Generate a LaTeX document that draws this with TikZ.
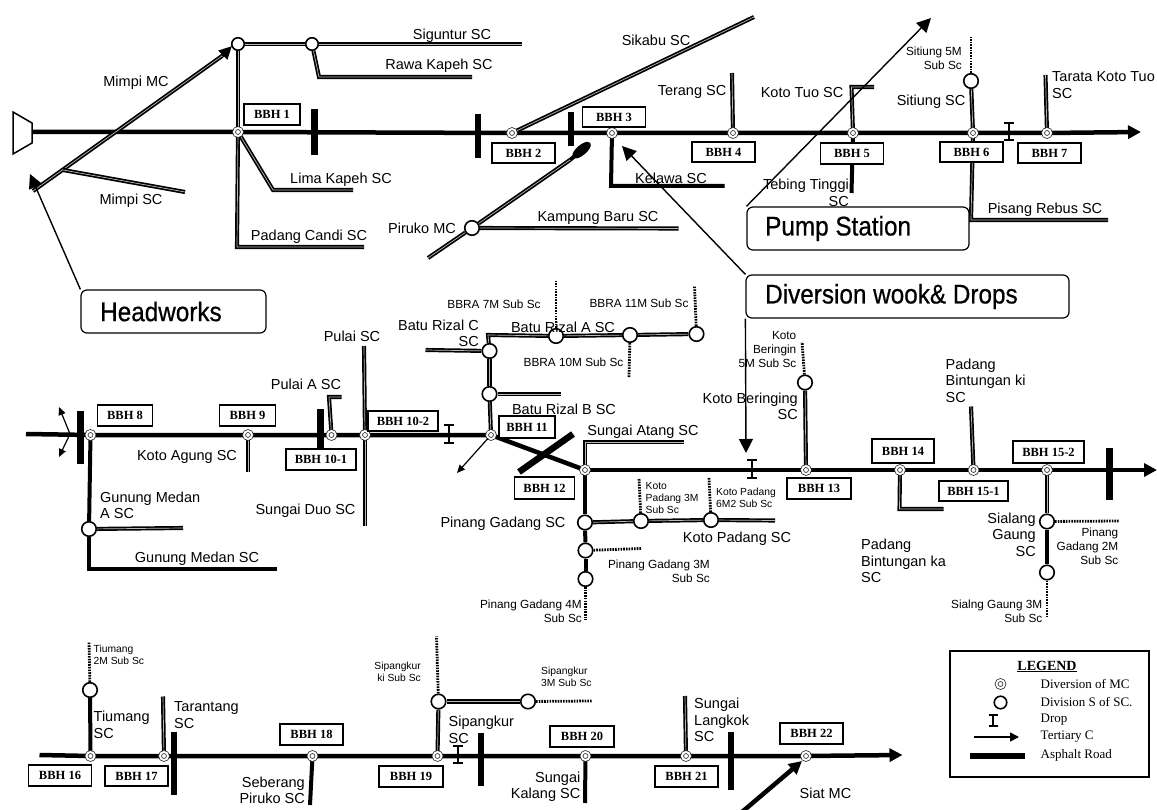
\documentclass[tikz,border=0pt]{standalone}
\usepackage{fontspec}
\setmainfont{Liberation Sans}
\newfontfamily\bbhfont{Liberation Serif}
\newfontfamily\calloutfont[FakeStretch=0.9,FakeBold=0.6]{Liberation Sans}
\usetikzlibrary{arrows.meta,backgrounds}
\tikzset{
  canal/.style={line width=4.5pt},
  road/.style={line width=6.5pt},
  scline/.style={line width=1.7pt,double=gray!55,double distance=0.7pt},
  solidsc/.style={line width=4pt},
  subsc/.style={line width=2.8pt,dash pattern=on 1.6pt off 1.1pt},
  lead/.style={line width=1.4pt,-{Triangle[length=14pt,width=14pt]}},
  thinarrow/.style={line width=1.2pt,-{Triangle[length=8pt,width=7pt]}},
  bigtip/.style={-{Triangle[length=13pt,width=13pt]}},
  dropc/.style={line width=2pt,{Bar[width=10pt,line width=2pt]}-{Bar[width=10pt,line width=2pt]}},
  div/.style={circle,draw,fill=white,line width=1.6pt,minimum size=14.5pt,inner sep=0pt},
  divs/.style={div,minimum size=12.5pt},
  mcdiv/.style={circle,draw=black!80,fill=white,line width=0.8pt,double=white,double distance=1.9pt,minimum size=8pt,inner sep=0pt},
  bbh/.style={draw,line width=1.5pt,fill=white,inner sep=0pt,font=\fontsize{12.5}{14}\selectfont\bbhfont\bfseries},
  callout/.style={draw,line width=1.2pt,fill=white,rounded corners=6pt,inner sep=0pt},
  callouttext/.style={font=\fontsize{27}{30}\selectfont\calloutfont,anchor=west,inner sep=0pt},
  lab/.style={font=\fontsize{14.5}{16.5}\selectfont,inner sep=0pt,align=center},
  labl/.style={lab,align=left,anchor=west},
  labr/.style={lab,align=right,anchor=east},
  sm/.style={font=\fontsize{11.8}{13.8}\selectfont,inner sep=0pt,align=center},
  sml/.style={sm,align=left,anchor=west},
  smr/.style={sm,align=right,anchor=east},
  ti/.style={font=\fontsize{10.3}{12}\selectfont,inner sep=0pt},
  legtext/.style={font=\fontsize{13}{15}\selectfont\bbhfont,anchor=west,inner sep=0pt},
}
\newcommand{\bbhbox}[6]{\node[bbh,minimum width=#4pt,minimum height=#5pt] (#1) at (#2,#3) {#6};}
\begin{document}
\begin{tikzpicture}[x=1pt,y=-1pt]
\useasboundingbox (0,0) rectangle (1157,810);
\clip (0,0) rectangle (1157,810);

% ---------- row 1 nodes
\coordinate (gateA) at (13,112);\coordinate (gateB) at (32,123);\coordinate (gateC) at (32,143);\coordinate (gateD) at (13,154);
\coordinate (row1start) at (32,132);
\coordinate (row1end) at (1141,132);
\node[mcdiv] (d1) at (238,132) {};
\node[mcdiv] (d2) at (512,133) {};
\node[mcdiv] (d3) at (612,133) {};
\node[mcdiv] (d4) at (733,133) {};
\node[mcdiv] (d5) at (853,133) {};
\node[mcdiv] (d6) at (973,133) {};
\node[mcdiv] (d7) at (1047,133) {};
\node[divs] (topA) at (238,44) {};
\node[divs] (topB) at (312,44) {};
\node[div] (piruko) at (472,228) {};
\node[div] (sitiung) at (971,81) {};
\bbhbox{b1}{272}{114.5}{56}{21}{BBH 1}
\bbhbox{b2}{523.5}{153}{63}{20}{BBH 2}
\bbhbox{b3}{614}{117}{63}{20}{BBH 3}
\bbhbox{b4}{723.5}{152}{63}{20}{BBH 4}
\bbhbox{b5}{852}{153.5}{63}{21}{BBH 5}
\bbhbox{b6}{971.5}{152}{63}{20}{BBH 6}
\bbhbox{b7}{1049.5}{153}{63}{20}{BBH 7}
\node[callout,minimum width=222pt,minimum height=43pt] (pump) at (858,228.5) {};
\node[callouttext] (pumptext) at (765,228.5) {Pump Station};
\node[callout,minimum width=323pt,minimum height=43pt] (divbox) at (907.5,296.5) {};
\node[callouttext] (divtext) at (765,296.5) {Diversion wook\& Drops};
\node[callout,minimum width=185pt,minimum height=43pt] (head) at (173.5,311.5) {};
\node[callouttext] (headtext) at (100,311.5) {Headworks};

\node[lab] (lMimpiMC) at (136,83) {Mimpi MC};
\node[lab] (lMimpiSC) at (131,201) {Mimpi SC};
\node[lab] (lSig) at (452,36) {Siguntur SC};
\node[lab] (lRawa) at (439,66) {Rawa Kapeh SC};
\node[lab] (lLima) at (341,180) {Lima Kapeh SC};
\node[lab] (lPadC) at (309,237) {Padang Candi SC};
\node[lab] (lPiruko) at (422,228) {Piruko MC};
\node[lab] (lKamp) at (598,218) {Kampung Baru SC};
\node[lab] (lSikabu) at (656,40) {Sikabu SC};
\node[lab] (lTerang) at (692,92) {Terang SC};
\node[lab] (lKelawa) at (671,178) {Kelawa SC};
\node[lab] (lKotoTuo) at (802,93) {Koto Tuo SC};
\node[labr] (lTebing) at (849,193) {Tebing Tinggi\\SC};
\node[lab] (lSitiung) at (931,102) {Sitiung SC};
\node[smr] (lSit5) at (962,58) {Sitiung 5M\\Sub Sc};
\node[labl] (lTarata) at (1052,85) {Tarata Koto Tuo\\SC};
\node[lab] (lPisang) at (1045,210) {Pisang Rebus SC};

% ---------- row 2 nodes
\coordinate (row2start) at (26,434);
\coordinate (row2bend) at (70,434);
\node[mcdiv] (d8) at (90.5,435) {};
\node[mcdiv] (d9) at (248,435) {};
\node[mcdiv] (d101) at (331.5,435) {};
\node[mcdiv] (d102) at (365,435) {};
\node[mcdiv] (d11) at (491,435) {};
\node[div] (gm) at (89,529) {};
\node[div] (br1) at (489.5,351) {};
\node[div] (br2) at (489.5,394) {};
\node[div] (brA1) at (556,336) {};
\node[div] (brA2) at (630,335) {};
\node[div] (brA3) at (696.5,334) {};
\bbhbox{b8}{125}{415.5}{55}{21}{BBH 8}
\bbhbox{b9}{247.5}{415.5}{56}{21}{BBH 9}
\bbhbox{b101}{321}{459.5}{70}{21}{BBH 10-1}
\bbhbox{b102}{403}{421}{70}{20}{BBH 10-2}
\bbhbox{b11}{527}{427}{56}{22}{BBH 11}
\bbhbox{b12}{544.5}{488}{60}{22}{BBH 12}

\node[lab] (lKotoA) at (187,457) {Koto Agung SC};
\node[labl] (lGMA) at (100,505.5) {Gunung Medan\\A SC};
\node[lab] (lGM) at (197,559) {Gunung Medan SC};
\node[lab] (lPulaiA) at (306,384) {Pulai A SC};
\node[lab] (lPulai) at (352,336) {Pulai SC};
\node[lab] (lDuo) at (305.5,511) {Sungai Duo SC};
\node[labr] (lBRC) at (479,333.5) {Batu Rizal C\\SC};
\node[lab] (lBRA) at (563,327) {Batu Rizal A SC};
\node[lab] (lBRB) at (564,409) {Batu Rizal B SC};
\node[sm] (lB7) at (494,304) {BBRA 7M Sub Sc};
\node[sm] (lB10) at (573.5,362.5) {BBRA 10M Sub Sc};
\node[sm] (lB11) at (639,303) {BBRA 11M Sub Sc};

% ---------- row 2 right nodes
\coordinate (row2end) at (1157,470);
\node[mcdiv] (d12) at (585,470) {};
\node[mcdiv] (d13) at (806,470) {};
\node[mcdiv] (d14) at (900,470) {};
\node[mcdiv] (d151) at (973.5,470) {};
\node[mcdiv] (d152) at (1047,470) {};
\node[div] (pg1) at (585,522.5) {};
\node[div] (pg2) at (585.5,550.5) {};
\node[div] (pg3) at (585.5,579) {};
\node[div] (kp1) at (641,521) {};
\node[div] (kp2) at (711,520) {};
\node[div] (kb) at (805,382.5) {};
\node[div] (sg1) at (1047,521.5) {};
\node[div] (sg2) at (1047,572.5) {};
\bbhbox{b13}{819}{488.5}{64}{21}{BBH 13}
\bbhbox{b14}{903}{451}{62}{24}{BBH 14}
\bbhbox{b151}{973.5}{491}{69}{20}{BBH 15-1}
\bbhbox{b152}{1048.5}{452}{71}{22}{BBH 15-2}

\node[lab] (lSA) at (643,432) {Sungai Atang SC};
\node[lab] (lPGS) at (503,524) {Pinang Gadang  SC};
\node[lab] (lKP) at (737,539) {Koto Padang SC};
\node[ti,align=left,anchor=west] (lKP3) at (645.5,498.5) {Koto\\Padang 3M\\Sub Sc};
\node[ti,align=left,anchor=west] (lKP6) at (716,498) {Koto Padang\\6M2 Sub Sc};
\node[smr] (lPG3) at (710,571) {Pinang Gadang 3M\\Sub Sc};
\node[smr] (lPG4) at (582,611) {Pinang Gadang 4M\\Sub Sc};
\node[smr] (lKB5) at (796.5,349.5) {Koto\\Beringin\\5M Sub Sc};
\node[labr] (lKB) at (798,406.5) {Koto Beringing\\SC};
\node[labl] (lPBki) at (945.5,380.5) {Padang\\Bintungan ki\\SC};
\node[labl] (lPBka) at (861,561) {Padang\\Bintungan ka\\SC};
\node[smr] (lPG2) at (1118.5,546) {Pinang\\Gadang 2M\\Sub Sc};
\node[labr] (lSG) at (1036,534.5) {Sialang\\Gaung\\SC};
\node[smr] (lSG3) at (1042.5,611) {Sialng Gaung 3M\\Sub Sc};

% ---------- row 3 nodes
\coordinate (row3start) at (39.5,755);
\coordinate (row3end) at (902.5,755);
\node[mcdiv] (d16) at (90.5,756) {};
\node[mcdiv] (d17) at (164,756) {};
\node[mcdiv] (d18) at (312.5,756) {};
\node[mcdiv] (d19) at (437.5,756) {};
\node[mcdiv] (d20) at (585.5,756) {};
\node[mcdiv] (d21) at (686,756) {};
\node[mcdiv] (d22) at (806,756) {};
\node[div] (tm) at (90,690) {};
\node[div] (sp1) at (438.5,701.5) {};
\node[div] (sp2) at (528,701.5) {};
\bbhbox{b16}{60}{775.5}{63}{21}{BBH 16}
\bbhbox{b17}{136.5}{776}{63}{20}{BBH 17}
\bbhbox{b18}{311.5}{734.5}{63}{21}{BBH 18}
\bbhbox{b19}{411}{776.5}{64}{21}{BBH 19}
\bbhbox{b20}{582}{736.5}{64}{21}{BBH 20}
\bbhbox{b21}{686.5}{776.5}{63}{21}{BBH 21}
\bbhbox{b22}{811.5}{733.5}{63}{21}{BBH 22}

\node[ti,align=left,anchor=west] (lT2) at (93.5,654.5) {Tiumang\\2M Sub Sc};
\node[labl] (lT) at (93.5,725) {Tiumang\\SC};
\node[labl] (lTar) at (174,715) {Tarantang\\SC};
\node[labr] (lSeb) at (305,790.5) {Seberang\\Piruko SC};
\node[ti,align=right,anchor=east] (lSki) at (421,672) {Sipangkur\\ki Sub Sc};
\node[ti,align=left,anchor=west] (lS3) at (541,677) {Sipangkur\\3M Sub Sc};
\node[labl] (lSip) at (448.5,730) {Sipangkur\\SC};
\node[labr] (lSK) at (580.5,786.5) {Sungai\\Kalang SC};
\node[labl] (lSL) at (694,720) {Sungai\\Langkok\\SC};
\node[lab] (lSiat) at (825.5,793) {Siat MC};

% ---------- legend
\node[draw,line width=2pt,fill=white,minimum width=199pt,minimum height=126pt,inner sep=0pt] (legend) at (1049.5,714) {};
\node[font=\fontsize{14}{16}\selectfont\bbhfont\bfseries,inner sep=0pt] (legtitle) at (1047,666.5) {\underline{LEGEND}};
\node[mcdiv] (legmc) at (1000.5,684) {};
\node[divs] (legdiv) at (1000.5,702.5) {};
\coordinate (legdropA) at (993,714);\coordinate (legdropB) at (993,727);
\coordinate (legarrA) at (973.5,737);\coordinate (legarrB) at (1019,737);
\coordinate (legroadA) at (970,756);\coordinate (legroadB) at (1025,756);
\node[legtext] (lg1) at (1040.5,684) {Diversion of MC};
\node[legtext] (lg2) at (1040.5,702) {Division S of SC.};
\node[legtext] (lg3) at (1040.5,720) {Drop};
\node[legtext] (lg4) at (1040.5,737) {Tertiary C};
\node[legtext] (lg5) at (1040.5,755) {Asphalt Road};

% ---------- free ends
\coordinate (mmA) at (33,191);\coordinate (mmB) at (222,56);\coordinate (mmTip) at (232,46);
\coordinate (msA) at (63,170);\coordinate (msB) at (185,192);
\coordinate (sigEnd) at (522,44);
\coordinate (rawaC) at (319,77);\coordinate (rawaEnd) at (472,77);
\coordinate (limaC) at (273,190);\coordinate (limaEnd) at (353,190);
\coordinate (padC) at (237,247);\coordinate (padEnd) at (364,247);
\coordinate (r1a) at (314.5,109);\coordinate (r1b) at (314.5,155);
\coordinate (r2a) at (478,114);\coordinate (r2b) at (478,158);
\coordinate (r3a) at (571,112);\coordinate (r3b) at (571,146);
\coordinate (sikEnd) at (754,17);
\coordinate (pirA) at (428,258);\coordinate (pirB) at (570,160);\coordinate (pirTip) at (590,143);
\coordinate (kampEnd) at (678.5,228.5);
\coordinate (kelC) at (611,186);\coordinate (kelEnd) at (724.5,186);
\coordinate (terEnd) at (732,73);
\coordinate (ktC) at (851.5,87);\coordinate (ktEnd) at (874,87);
\coordinate (ttEnd) at (851.5,193);
\coordinate (sit5End) at (971,37);
\coordinate (prC) at (971,220);\coordinate (prEnd) at (1108,220);
\coordinate (drop1a) at (1009,122);\coordinate (drop1b) at (1009,141);
\coordinate (tarEnd) at (1045.5,75);
\coordinate (headTip) at (30,174);
\coordinate (pumpTip) at (931,18);
\coordinate (div3Tip) at (622,146);
\coordinate (div2Tip) at (746,453);

\coordinate (yUp) at (59,407);\coordinate (yDown) at (59,457);
\coordinate (r8a) at (80.5,411);\coordinate (r8b) at (80.5,464);
\coordinate (gmC) at (89,569);\coordinate (gmEnd) at (277,569);
\coordinate (gmaEnd) at (183,528);
\coordinate (kaEnd) at (248,472);
\coordinate (r10a) at (320.5,409);\coordinate (r10b) at (320.5,452);
\coordinate (paC) at (329,397);\coordinate (paEnd) at (341.5,397);
\coordinate (pulEnd) at (364,346);
\coordinate (duoEnd) at (365,526);
\coordinate (drop2a) at (448.5,424);\coordinate (drop2b) at (448.5,444);
\coordinate (brcEnd) at (425.5,350);
\coordinate (brCorner) at (488,335);
\coordinate (brbEnd) at (561,394);
\coordinate (b7End) at (556,281);
\coordinate (b10End) at (629,377);
\coordinate (b11End) at (694.5,286);
\coordinate (arr11) at (457,473);
\coordinate (r12a) at (519,472);\coordinate (r12b) at (573,434);
\coordinate (saC) at (585,442);\coordinate (saEnd) at (684,442);
\coordinate (pg4End) at (585.5,620);
\coordinate (kpEnd) at (775,520.5);
\coordinate (kp3End) at (639,478);
\coordinate (kp6End) at (709,478);
\coordinate (pg3End) at (641,548.5);
\coordinate (drop3a) at (752,459);\coordinate (drop3b) at (752,479);
\coordinate (kb5End) at (802,342);
\coordinate (pbkC) at (899.5,509);\coordinate (pbkEnd) at (943.5,509);
\coordinate (pbiEnd) at (971,406.5);
\coordinate (sg3End) at (1047,618);
\coordinate (pg2End) at (1118.5,521);
\coordinate (r15a) at (1109.5,448);\coordinate (r15b) at (1109.5,500);

\coordinate (t2End) at (89,641.5);
\coordinate (tarnEnd) at (163,696.5);
\coordinate (r17a) at (174,731.5);\coordinate (r17b) at (174,795);
\coordinate (sebEnd) at (310,805);
\coordinate (skiEnd) at (436.5,636.5);
\coordinate (s3End) at (591.5,701);
\coordinate (drop4a) at (457.5,745);\coordinate (drop4b) at (457.5,764);
\coordinate (r19a) at (481,733);\coordinate (r19b) at (481,786);
\coordinate (kalEnd) at (585,803);
\coordinate (lanEnd) at (685,696);
\coordinate (r21a) at (731,732);\coordinate (r21b) at (731,790);
\coordinate (siatA) at (742,812);\coordinate (siatTip) at (802,761);

% ---------- connectors behind the nodes
\begin{scope}[on background layer]
\fill[white] (0,0) rectangle (1157,810);
% row 1
\draw[line width=1.5pt] (gateA) -- (gateB) -- (gateC) -- (gateD) -- cycle;
\draw[canal] (row1start) -- (d1) -- (d2) -- (d3) -- (d4) -- (d5) -- (d6) -- (d7);
\draw[canal,bigtip] (d7) -- (row1end);
\draw[scline] (mmA) -- (mmB);
\draw[solidsc,-{Triangle[length=13pt,width=12pt]}] (mmB) -- (mmTip);
\draw[scline] (msA) -- (msB);
\draw[scline] (topA) -- (d1);
\draw[scline] (topA) -- (topB);
\draw[scline] (topB) -- (sigEnd);
\draw[scline] (topB) -- (rawaC) -- (rawaEnd);
\draw[scline] (d1) -- (limaC) -- (limaEnd);
\draw[scline] (d1) -- (padC) -- (padEnd);
\draw[road] (r1a) -- (r1b);
\draw[road] (r2a) -- (r2b);
\draw[road] (r3a) -- (r3b);
\draw[scline] (d2) -- (sikEnd);
\draw[scline] (pirA) -- (piruko);
\draw[scline] (piruko) -- (pirB);
\draw[solidsc,-{Ellipse[length=22pt,width=10pt]}] (pirB) -- (pirTip);
\draw[scline] (piruko) -- (kampEnd);
\draw[solidsc] (d3) -- (kelC) -- (kelEnd);
\draw[scline] (d4) -- (terEnd);
\draw[scline] (d5) -- (ktC) -- (ktEnd);
\draw[solidsc] (d5) -- (ttEnd);
\draw[scline] (d6) -- (sitiung);
\draw[subsc] (sitiung) -- (sit5End);
\draw[scline] (d6) -- (prC) -- (prEnd);
\draw[scline] (d7) -- (tarEnd);
\draw[dropc] (drop1a) -- (drop1b);
% row 2 left
\draw[canal] (row2start) -- (d8) -- (d9) -- (d101) -- (d102) -- (d11);
\draw[road] (r8a) -- (r8b);
\draw[solidsc] (d8) -- (gm);
\draw[solidsc] (gm) -- (gmC) -- (gmEnd);
\draw[scline] (gm) -- (gmaEnd);
\draw[scline] (d9) -- (kaEnd);
\draw[road] (r10a) -- (r10b);
\draw[scline] (d101) -- (paC) -- (paEnd);
\draw[scline] (d102) -- (pulEnd);
\draw[scline] (d102) -- (duoEnd);
\draw[dropc] (drop2a) -- (drop2b);
\draw[scline] (d11) -- (br2);
\draw[scline] (br2) -- (br1);
\draw[scline] (br2) -- (brbEnd);
\draw[scline] (br1) -- (brcEnd);
\draw[scline] (br1) -- (brCorner) -- (brA1);
\draw[scline] (brA1) -- (brA2);
\draw[scline] (brA2) -- (brA3);
\draw[subsc] (brA1) -- (b7End);
\draw[subsc] (brA2) -- (b10End);
\draw[subsc] (brA3) -- (b11End);
\draw[canal] (d11) -- (d12);
\draw[road] (r12a) -- (r12b);
% row 2 right
\draw[canal] (d12) -- (d13) -- (d14) -- (d151) -- (d152);
\draw[canal,bigtip] (d152) -- (row2end);
\draw[scline] (d12) -- (saC) -- (saEnd);
\draw[solidsc] (d12) -- (pg1);
\draw[solidsc] (pg1) -- (pg2);
\draw[solidsc] (pg2) -- (pg3);
\draw[subsc] (pg3) -- (pg4End);
\draw[scline] (pg1) -- (kp1);
\draw[scline] (kp1) -- (kp2);
\draw[scline] (kp2) -- (kpEnd);
\draw[subsc] (kp1) -- (kp3End);
\draw[subsc] (kp2) -- (kp6End);
\draw[subsc] (pg2) -- (pg3End);
\draw[dropc] (drop3a) -- (drop3b);
\draw[scline] (d13) -- (kb);
\draw[subsc] (kb) -- (kb5End);
\draw[scline] (d14) -- (pbkC) -- (pbkEnd);
\draw[scline] (d151) -- (pbiEnd);
\draw[scline] (d152) -- (sg1);
\draw[solidsc] (sg1) -- (sg2);
\draw[subsc] (sg2) -- (sg3End);
\draw[subsc] (sg1) -- (pg2End);
\draw[road] (r15a) -- (r15b);
% row 3
\draw[canal] (row3start) -- (d16) -- (d17) -- (d18) -- (d19) -- (d20) -- (d21) -- (d22);
\draw[canal,bigtip] (d22) -- (row3end);
\draw[solidsc] (d16) -- (tm);
\draw[subsc] (tm) -- (t2End);
\draw[scline] (d17) -- (tarnEnd);
\draw[road] (r17a) -- (r17b);
\draw[solidsc] (d18) -- (sebEnd);
\draw[scline] (d19) -- (sp1);
\draw[subsc] (sp1) -- (skiEnd);
\draw[scline] (sp1) -- (sp2);
\draw[subsc] (sp2) -- (s3End);
\draw[dropc] (drop4a) -- (drop4b);
\draw[road] (r19a) -- (r19b);
\draw[solidsc] (d20) -- (kalEnd);
\draw[scline] (d21) -- (lanEnd);
\draw[road] (r21a) -- (r21b);
\end{scope}

% ---------- arrows in front
\draw[lead] (head.north west) -- (headTip);
\draw[lead] (pump.north west) -- (pumpTip);
\draw[lead] (divbox.north west) -- (div3Tip);
\draw[lead] (divbox.south west) -- (div2Tip);
\draw[thinarrow] (row2bend) -- (yUp);
\draw[thinarrow] (row2bend) -- (yDown);
\draw[thinarrow] (d11) -- (arr11);
\draw[canal,bigtip] (siatA) -- (siatTip);
\draw[line width=2pt,{Bar[width=9pt,line width=2pt]}-{Bar[width=9pt,line width=2pt]}] (legdropA) -- (legdropB);
\draw[line width=1.6pt,-{Triangle[length=9pt,width=9pt]}] (legarrA) -- (legarrB);
\draw[road] (legroadA) -- (legroadB);
\end{tikzpicture}
\end{document}
